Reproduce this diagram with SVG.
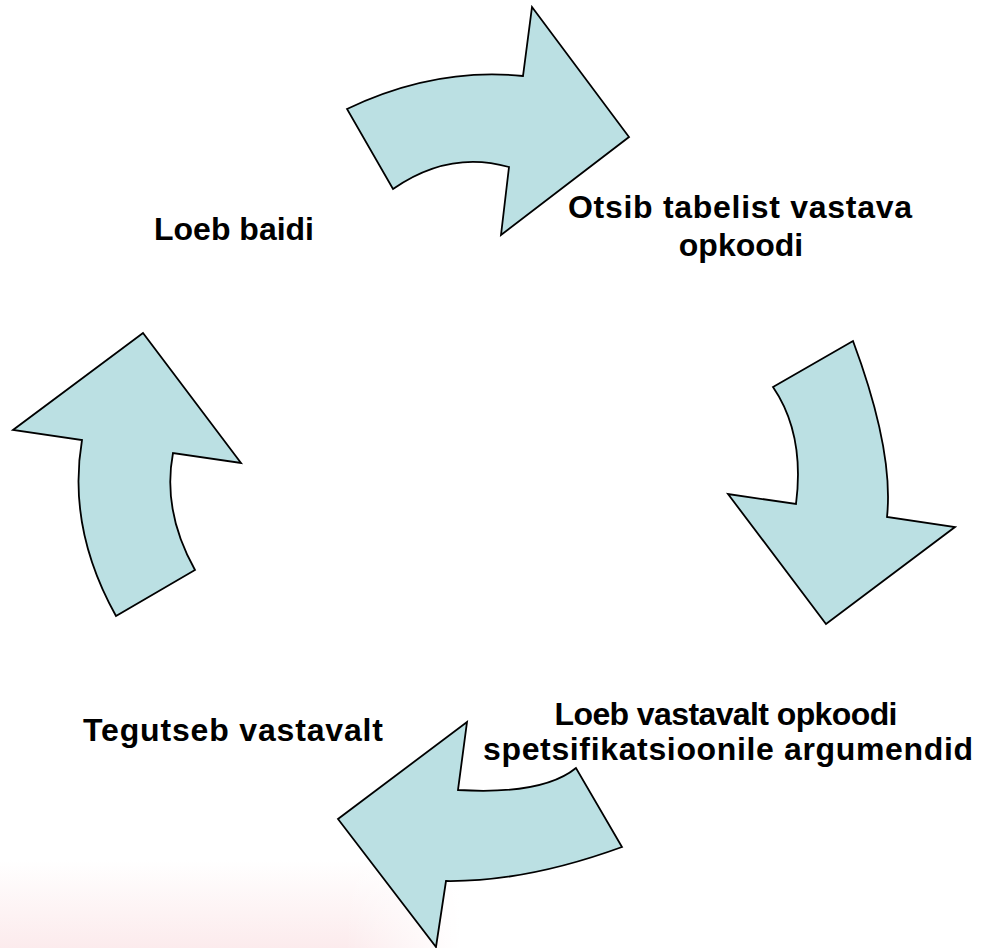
<svg xmlns="http://www.w3.org/2000/svg" width="988" height="948" viewBox="0 0 988 948">
<style>
.arrow{fill:#BBE0E3;stroke:#000;stroke-width:1.8;stroke-linejoin:miter}
.lbl{font-family:"Liberation Sans",Arial,sans-serif;font-weight:bold;font-size:32px;fill:#000;text-anchor:middle}
</style>
<defs>
<linearGradient id="bgv" x1="0" y1="0" x2="0" y2="1">
<stop offset="0" stop-color="#fbe6e8" stop-opacity="0"/>
<stop offset="1" stop-color="#fbe6e8" stop-opacity="0.8"/>
</linearGradient>
<linearGradient id="bgh" x1="0" y1="0" x2="1" y2="0">
<stop offset="0" stop-color="#fff" stop-opacity="0"/>
<stop offset="0.75" stop-color="#fff" stop-opacity="0"/>
<stop offset="1" stop-color="#fff" stop-opacity="1"/>
</linearGradient>
</defs>
<rect width="988" height="948" fill="#fff"/>
<rect x="0" y="860" width="460" height="88" fill="url(#bgv)"/>
<rect x="0" y="860" width="460" height="88" fill="url(#bgh)"/>
<g id="connectors">
<path id="arrow-top" class="arrow" d="M347,109 Q435,67 523,76 L532,7 L629,137 L501,235 L509,167 Q449,150 393,189 Z"/>
<path id="arrow-right" class="arrow" d="M853,341 Q894,451 887,517 L955,527 L826,624 L728,494 L796,504 Q805,434 773,387 Z"/>
<path id="arrow-bottom" class="arrow" d="M622,847 Q526,882 446,881 L436,947 L338,819 L467,722 L458,790 Q543,795 576,768 Z"/>
<path id="arrow-left" class="arrow" d="M116,616 Q67,528 82,440 L13,430 L143,333 L241,463 L173,453 Q162,511 195,570 Z"/>
</g>
<g id="node-loeb-baidi">
<text class="lbl" x="234" y="240" textLength="160">Loeb baidi</text>
</g>
<g id="node-otsib">
<text class="lbl" x="740" y="218" textLength="344">Otsib tabelist vastava</text>
<text class="lbl" x="741" y="256">opkoodi</text>
</g>
<g id="node-loeb-vastavalt">
<text class="lbl" x="726" y="725" textLength="343">Loeb vastavalt opkoodi</text>
<text class="lbl" x="728" y="760" textLength="490">spetsifikatsioonile argumendid</text>
</g>
<g id="node-tegutseb">
<text class="lbl" x="233" y="741" textLength="300">Tegutseb vastavalt</text>
</g>
</svg>
